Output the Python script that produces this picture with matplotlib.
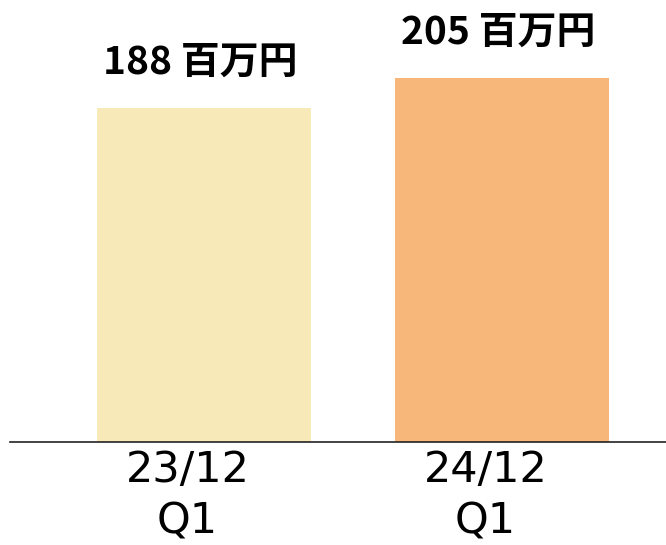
"""Two-period revenue bar chart (百万円)."""

import matplotlib

matplotlib.use("Agg")
from matplotlib import pyplot as plt
from matplotlib.transforms import ScaledTranslation

periods = ["23/12\nQ1", "24/12\nQ1"]
values = [188, 205]
value_labels = ["188 百万円", "205 百万円"]
colors = ["#F8EAB8", "#F8B77A"]

W, H, DPI = 666, 545, 100

fig = plt.figure(figsize=(W / DPI, H / DPI), dpi=DPI)
# axes in pixel terms: left 10, right 666, baseline at y=442, top at y=0
ax = fig.add_axes([10 / W, (H - 442) / H, (W - 10) / W, 442 / H])

xs = list(range(len(values)))
ax.bar(xs, values, width=0.718, color=colors)

ax.set_xlim(-0.651, 1.55)
ax.set_ylim(0, 249)

for x, v, lab in zip(xs, values, value_labels):
    ax.annotate(lab, (x, v), xytext=(-3, 25), textcoords="offset points",
                ha="center", va="baseline", fontsize=28, fontweight="bold",
                family=["Noto Sans CJK JP", "DejaVu Sans"])

ax.set_xticks(xs)
ax.set_xticklabels(periods, fontsize=31, linespacing=1.3, family="DejaVu Sans")
ax.tick_params(axis="x", length=0, pad=5)
ax.set_yticks([])

# labels in the source sit a little left of the bar centres
shift = ScaledTranslation(-12 / 72, 0, fig.dpi_scale_trans)
for t in ax.get_xticklabels():
    t.set_transform(t.get_transform() + shift)

for side in ("top", "right", "left"):
    ax.spines[side].set_visible(False)
ax.spines["bottom"].set_linewidth(1.2)
ax.spines["bottom"].set_color("#222222")

fig.savefig("out.png", dpi=DPI)
